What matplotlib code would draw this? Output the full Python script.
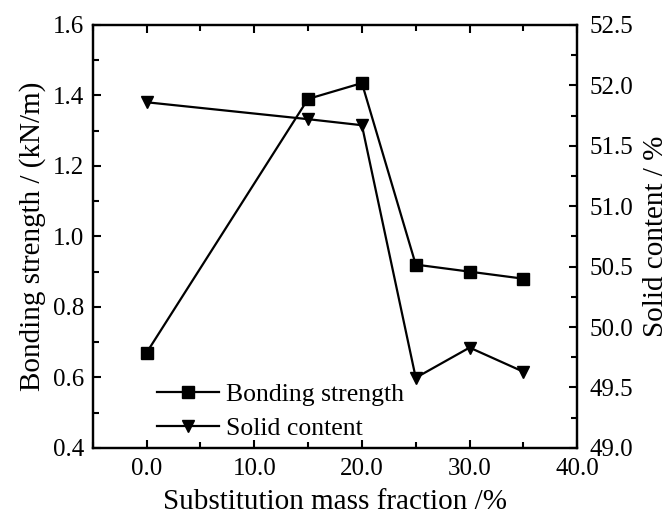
import numpy as np
import matplotlib
matplotlib.use("Agg")
import matplotlib.pyplot as plt
from matplotlib.ticker import MultipleLocator, FormatStrFormatter

# data
fraction = [0, 15, 20, 25, 30, 35]
bonding = [0.67, 1.39, 1.435, 0.92, 0.90, 0.88]
solid = [51.86, 51.72, 51.67, 49.58, 49.83, 49.63]

plt.rcParams['font.family'] = ['Liberation Serif', 'DejaVu Serif']

fig = plt.figure(figsize=(6.72, 5.19), dpi=100)
ax = fig.add_axes([0.138, 0.137, 0.721, 0.815])
ax2 = ax.twinx()

l1, = ax.plot(fraction, bonding, color='black', lw=1.6, marker='s', ms=8,
              label='Bonding strength')
l2, = ax2.plot(fraction, solid, color='black', lw=1.6, marker='v', ms=9,
               label='Solid content')

ax.set_xlim(-5, 40)
ax.set_ylim(0.4, 1.6)
ax2.set_ylim(49.0, 52.5)

ax.xaxis.set_major_locator(MultipleLocator(10))
ax.xaxis.set_minor_locator(MultipleLocator(5))
ax.xaxis.set_major_formatter(FormatStrFormatter('%.1f'))
ax.yaxis.set_major_locator(MultipleLocator(0.2))
ax.yaxis.set_minor_locator(MultipleLocator(0.1))
ax.yaxis.set_major_formatter(FormatStrFormatter('%.1f'))
ax2.yaxis.set_major_locator(MultipleLocator(0.5))
ax2.yaxis.set_minor_locator(MultipleLocator(0.25))
ax2.yaxis.set_major_formatter(FormatStrFormatter('%.1f'))

ax.tick_params(axis='both', which='both', direction='in', labelsize=18, width=1.5)
ax.tick_params(axis='x', which='both', top=True, pad=7)
ax.tick_params(axis='y', which='both', pad=6)
ax.tick_params(which='major', length=6)
ax.tick_params(which='minor', length=4)
ax2.tick_params(axis='y', which='both', direction='in', labelsize=18, width=1.5, pad=9)
ax2.tick_params(which='major', length=6)
ax2.tick_params(which='minor', length=4)

for a in (ax, ax2):
    for s in a.spines.values():
        s.set_linewidth(1.6)

ax.set_xlabel('Substitution mass fraction /%', fontsize=21, labelpad=7)
ax.set_ylabel('Bonding strength / (kN/m)', fontsize=21, labelpad=5)
ax2.set_ylabel('Solid content / %', fontsize=21, labelpad=7)

ax.legend([l1, l2], ['Bonding strength', 'Solid content'], loc='lower left',
          bbox_to_anchor=(0.085, -0.035), frameon=False, fontsize=18.5,
          handlelength=2.4, handletextpad=0.3, labelspacing=0.4)

fig.savefig('out.png', dpi=100)
